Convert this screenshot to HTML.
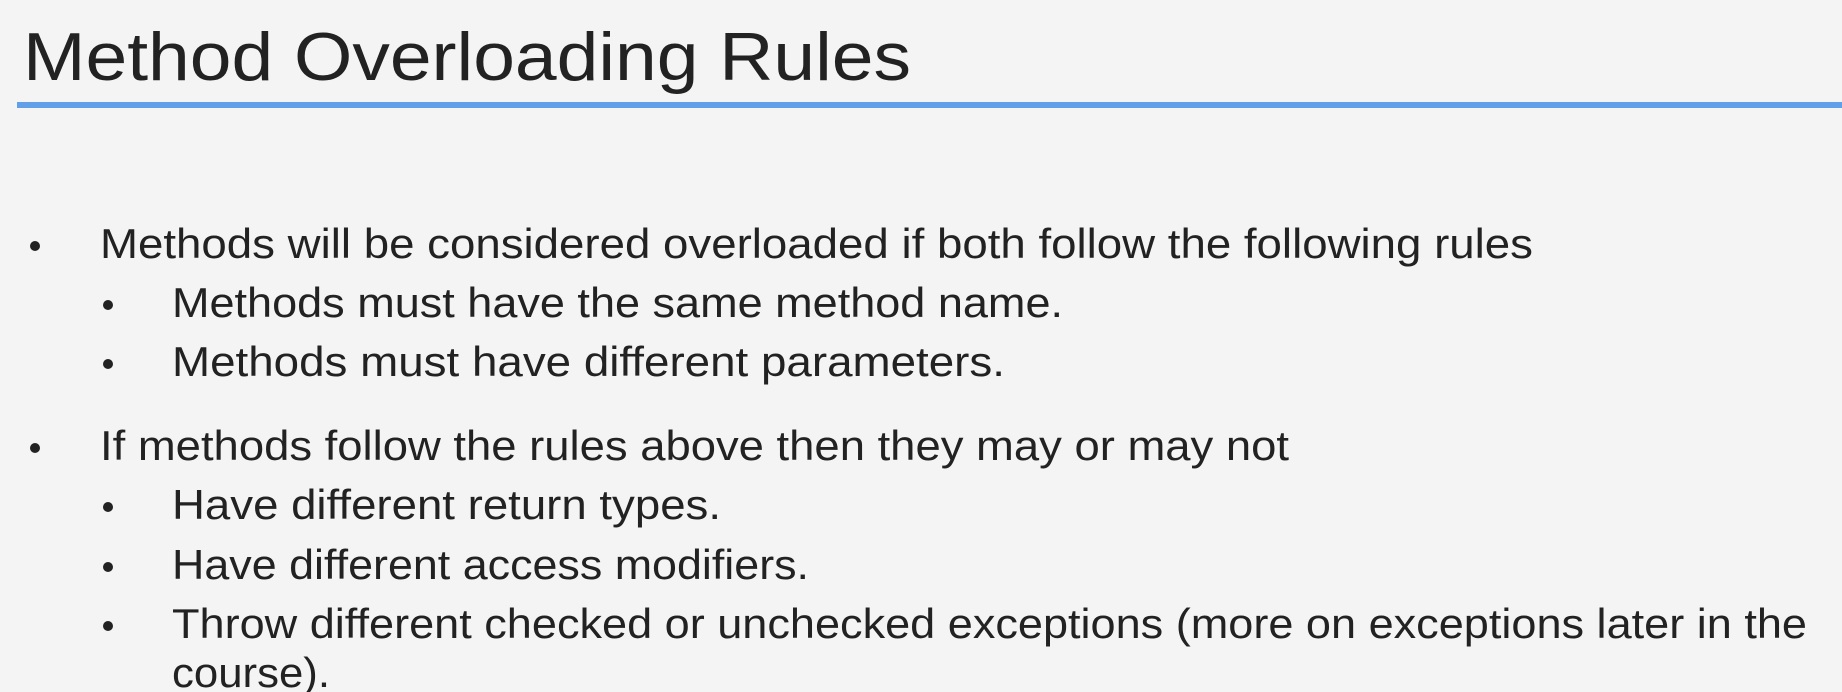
<!DOCTYPE html>
<html><head><meta charset="utf-8"><style>
html,body{margin:0;padding:0;background:#f4f4f4;}
svg{display:block}
text{font-family:"Liberation Sans",sans-serif;fill:#222;}
</style></head><body>
<svg width="1842" height="692" viewBox="0 0 1842 692" xmlns="http://www.w3.org/2000/svg">
<rect width="1842" height="692" fill="#f4f4f4"/>
<text x="23" y="80" font-size="68" textLength="888" lengthAdjust="spacingAndGlyphs">Method Overloading Rules</text>
<rect x="17" y="102" width="1825" height="6" fill="#61a0e8"/>
<g font-size="42">
<circle cx="35" cy="246" r="5" fill="#222"/>
<text x="100" y="258" textLength="1433" lengthAdjust="spacingAndGlyphs">Methods will be considered overloaded if both follow the following rules</text>
<circle cx="108" cy="305" r="5" fill="#222"/>
<text x="172" y="317" textLength="891" lengthAdjust="spacingAndGlyphs">Methods must have the same method name.</text>
<circle cx="108" cy="364" r="5" fill="#222"/>
<text x="172" y="376" textLength="833" lengthAdjust="spacingAndGlyphs">Methods must have different parameters.</text>
<circle cx="35" cy="448" r="5" fill="#222"/>
<text x="100" y="460" textLength="1189" lengthAdjust="spacingAndGlyphs">If methods follow the rules above then they may or may not</text>
<circle cx="108" cy="507" r="5" fill="#222"/>
<text x="172" y="519" textLength="549" lengthAdjust="spacingAndGlyphs">Have different return types.</text>
<circle cx="108" cy="567" r="5" fill="#222"/>
<text x="172" y="579" textLength="637" lengthAdjust="spacingAndGlyphs">Have different access modifiers.</text>
<circle cx="108" cy="626" r="5" fill="#222"/>
<text x="172" y="638" textLength="1635" lengthAdjust="spacingAndGlyphs">Throw different checked or unchecked exceptions (more on exceptions later in the</text>
<text x="172" y="687" textLength="158" lengthAdjust="spacingAndGlyphs">course).</text>
</g>
</svg>
</body></html>
